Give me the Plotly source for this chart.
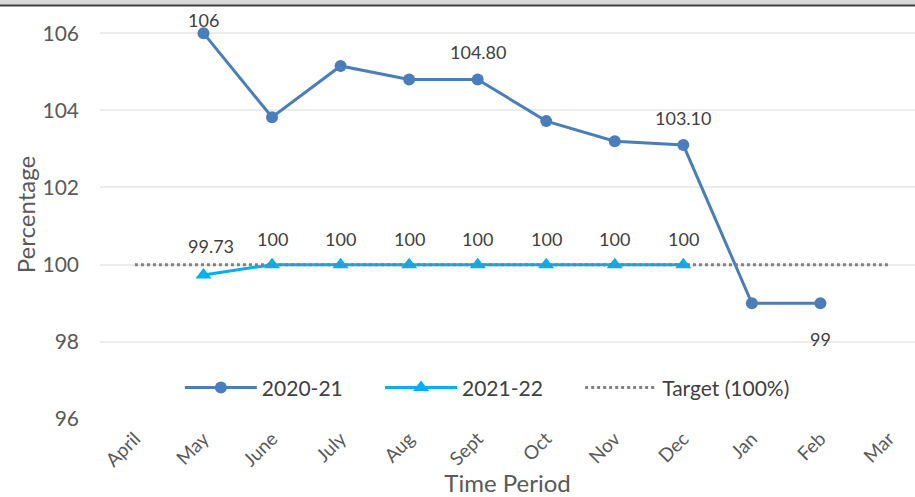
import plotly.graph_objects as go

months = ['April', 'May', 'June', 'July', 'Aug', 'Sept', 'Oct', 'Nov', 'Dec', 'Jan', 'Feb', 'Mar']
y2020 = [None, 106, 103.82, 105.15, 104.8, 104.8, 103.72, 103.2, 103.1, 99, 99, None]
y2021 = [None, 99.73, 100, 100, 100, 100, 100, 100, 100, None, None, None]
target = [100] * 12

# labels shown in the original (2020-21 only on some points)
lab2020 = {1: ('106', 13), 5: ('104.80', 27), 8: ('103.10', 27), 10: ('99', -36)}
lab2021 = {1: ('99.73', 29), 2: ('100', 26), 3: ('100', 26), 4: ('100', 26),
           5: ('100', 26), 6: ('100', 26), 7: ('100', 26), 8: ('100', 26)}

font = 'Lato'
txt = '#404040'
pad = '\u00a0' * 6  # extra room between legend entries

fig = go.Figure()
fig.add_trace(go.Scatter(x=months, y=y2020, name='2020-21' + pad, mode='lines+markers',
                         line=dict(color='#4a7ebb', width=3),
                         marker=dict(symbol='circle', size=12, color='#4a7ebb')))
fig.add_trace(go.Scatter(x=months, y=y2021, name='2021-22' + pad, mode='lines+markers',
                         line=dict(color='#00b0f0', width=3),
                         marker=dict(symbol='triangle-up', size=14, color='#00b0f0')))
fig.add_trace(go.Scatter(x=months, y=target, name='Target (100%)', mode='lines',
                         line=dict(color='#808080', width=3, dash='dot')))

anns = []
for i, (t, dy) in lab2020.items():
    anns.append(dict(x=months[i], y=y2020[i], text=t, showarrow=False, yshift=dy,
                     font=dict(size=18, color=txt, family=font)))
for i, (t, dy) in lab2021.items():
    anns.append(dict(x=months[i], y=y2021[i], text=t, showarrow=False, yshift=dy,
                     xshift=7 if i == 1 else 0,
                     font=dict(size=18, color=txt, family=font)))

fig.update_layout(
    width=915, height=497,
    margin=dict(l=100, r=0, t=10, b=78, autoexpand=False),
    plot_bgcolor='white', paper_bgcolor='white',
    font=dict(family=font, color=txt, size=16),
    annotations=anns,
    showlegend=True,
    legend=dict(orientation='h', x=0.098, y=0.076, xanchor='left', yanchor='middle',
                font=dict(size=21, color=txt), itemwidth=72,
                bgcolor='rgba(0,0,0,0)'),
    shapes=[
        dict(type='rect', xref='paper', yref='paper', x0=-0.2, x1=1.0, y0=1.011, y1=1.03,
             fillcolor='#d9d9d9', line=dict(width=0), layer='above'),
        dict(type='line', xref='paper', yref='paper', x0=-0.2, x1=1.0, y0=1.011, y1=1.011,
             line=dict(color='#404040', width=2)),
    ],
)
fig.update_xaxes(type='category', range=[-0.51, 11.38], tickangle=-45, automargin=False,
                 tickfont=dict(size=19, color='#595959'), showgrid=False,
                 title=dict(text='Time Period', font=dict(size=24, color='#595959'), standoff=6),
                 showline=False, ticks='', ticklabelstandoff=4)
fig.update_yaxes(range=[96, 106.6], tickvals=[96, 98, 100, 102, 104, 106], automargin=False,
                 gridcolor='#ececec', gridwidth=1.5, zeroline=False,
                 tickfont=dict(size=21, color='#595959'), ticks='', ticklabelstandoff=20,
                 title=dict(text='Percentage', font=dict(size=24, color='#595959'), standoff=0))

fig.write_html('out.html', config={'displayModeBar': False},
               post_script="document.body.style.margin='0';")
